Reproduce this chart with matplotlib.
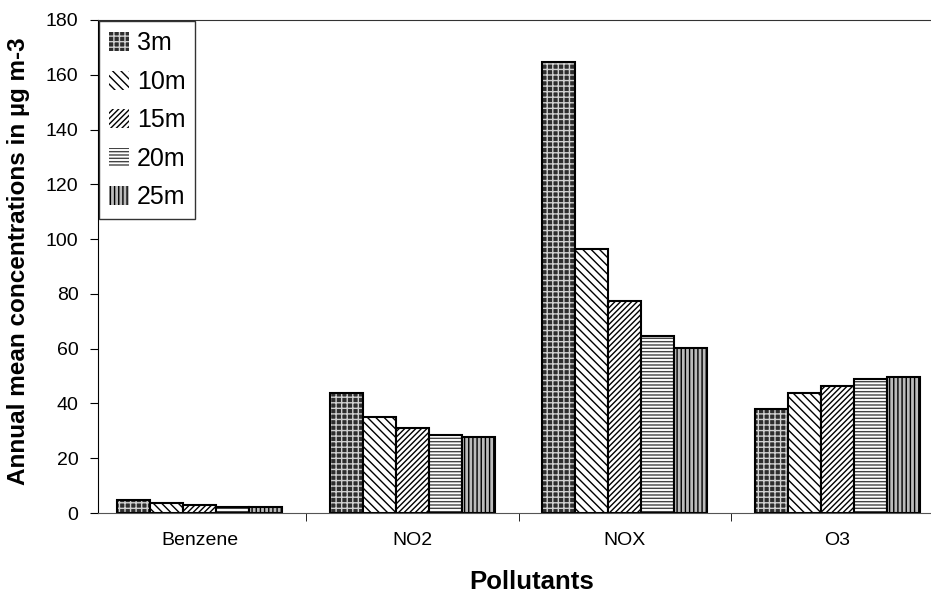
import matplotlib
matplotlib.use('Agg')
import matplotlib.pyplot as plt
from matplotlib.patches import Patch
import numpy as np

plt.rcParams['font.family'] = ['Liberation Sans', 'DejaVu Sans']
plt.rcParams['hatch.linewidth'] = 1.0

# Data
pollutants = ['Benzene', 'NO2', 'NOX', 'O3']
heights = ['3m', '10m', '15m', '20m', '25m']
values = {
    '3m':  [4.7, 43.8, 164.5, 38.0],
    '10m': [3.5, 35.0, 96.4, 43.8],
    '15m': [3.0, 31.0, 77.4, 46.4],
    '20m': [2.2, 28.5, 64.6, 48.9],
    '25m': [2.2, 27.7, 60.2, 49.6],
}

# Fill styles: (face colour, hatch, hatch colour)
styles = {
    '3m':  ('#2e2e2e', '+++', '#d0d0d0'),
    '10m': ('white', '\\\\\\\\', 'black'),
    '15m': ('white', '//////', 'black'),
    '20m': ('white', '-----', '#444444'),
    '25m': ('#bbbbbb', '||||', 'black'),
}

fig = plt.figure(figsize=(9.31, 5.94), dpi=100)
ax = fig.add_axes([98 / 931, 81 / 594, 833 / 931, 493 / 594])

x = np.arange(len(pollutants))
width = 0.155
handles = []
for i, h in enumerate(heights):
    face, hatch, hcol = styles[h]
    pos = x + (i - 2) * width
    # hatch layer
    ax.bar(pos, values[h], width, color=face, hatch=hatch, edgecolor=hcol, linewidth=0)
    # outline
    ax.bar(pos, values[h], width, fill=False, edgecolor='black', linewidth=1.5)
    handles.append(Patch(facecolor=face, hatch=hatch, edgecolor=hcol, linewidth=0))

ax.set_xlim(-0.479, 3.441)
ax.set_ylim(0, 180)
ax.set_yticks(range(0, 181, 20))
ax.tick_params(axis='y', labelsize=14, direction='out', length=6, pad=8)

ax.set_xticks(x)
ax.set_xticklabels(pollutants, fontsize=14)
ax.set_xticks(x[:-1] + 0.5, minor=True)
ax.tick_params(axis='x', which='major', length=0, pad=14)
ax.tick_params(axis='x', which='minor', length=6, direction='out')

ax.spines['right'].set_visible(False)
ax.spines['top'].set_color('#333333')
ax.spines['bottom'].set_color('#555555')

ax.set_xlabel('Pollutants', fontsize=18.5, fontweight='bold')
ax.xaxis.set_label_coords(0.52, -0.115)
ax.set_ylabel('Annual mean concentrations in µg m-3', fontsize=17.5, fontweight='bold')
ax.yaxis.set_label_coords(-0.082, 0.51)

leg = ax.legend(handles, heights, loc='upper left', fontsize=18, frameon=True, fancybox=False,
                borderaxespad=0.05, handlelength=0.8, handleheight=0.8, handletextpad=0.3,
                labelspacing=0.58, borderpad=0.4)
leg.get_frame().set_edgecolor('black')
leg.get_frame().set_linewidth(1.0)

fig.savefig('out.png', dpi=100)
